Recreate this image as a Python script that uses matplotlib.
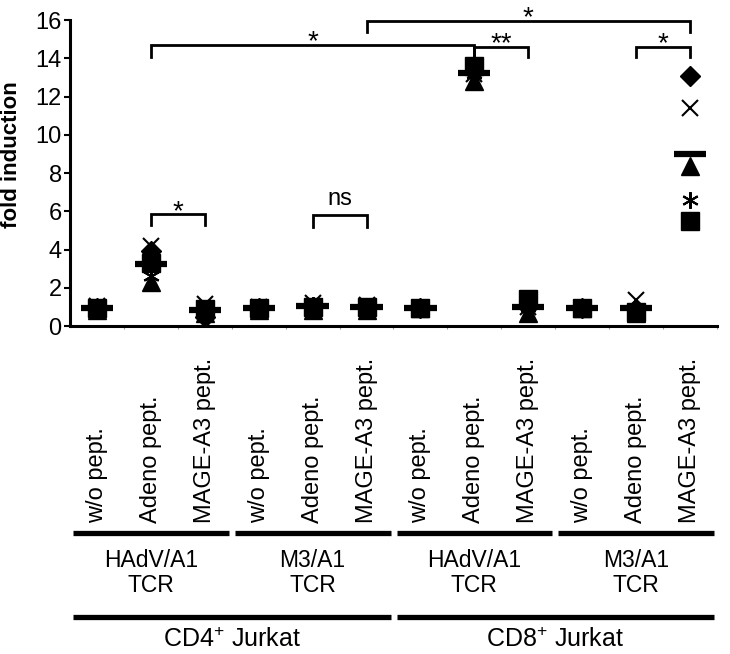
import numpy as np
import matplotlib
matplotlib.use("Agg")
import matplotlib.pyplot as plt
from matplotlib.transforms import blended_transform_factory

plt.rcParams['font.family'] = ['Liberation Sans', 'DejaVu Sans']
plt.rcParams['mathtext.fontset'] = 'custom'
plt.rcParams['mathtext.rm'] = 'Liberation Sans'

# conditions (12 columns): 2 cell lines x 2 TCRs x 3 peptides
peptides = ["w/o pept.", "Adeno pept.", "MAGE-A3 pept."]
tcrs = ["HAdV/A1\nTCR", "M3/A1\nTCR", "HAdV/A1\nTCR", "M3/A1\nTCR"]
cells = ["CD4$^{+}$ Jurkat", "CD8$^{+}$ Jurkat"]

# replicate values (fold induction), one list per marker
diamond = [0.95, 3.9, 0.45, 0.95, 1.0, 0.95, 0.95, 13.3, 1.0, 0.95, 0.9, 13.1]
square = [0.95, 3.3, 0.9, 0.95, 1.0, 1.0, 0.95, 13.6, 1.4, 0.95, 0.75, 5.5]
triangle = [0.85, 2.3, 0.7, 0.85, 0.85, 0.85, 0.95, 12.8, 0.7, 0.95, 0.7, 8.4]
cross = [1.05, 4.2, 1.15, 1.0, 1.2, 1.1, 0.95, 13.2, 1.0, 0.95, 1.35, 11.4]
star = [1.0, 2.6, 0.9, 1.0, 1.1, 1.05, 0.95, 13.2, 1.0, 0.95, 0.9, 6.6]

# significance brackets: (left col, right col, top, leg bottom, label)
brackets = [
    (1, 2, 5.85, 5.3, "*"),
    (4, 5, 5.8, 5.2, "ns"),
    (1, 7, 14.7, 14.1, "*"),
    (7, 8, 14.6, 14.1, "**"),
    (5, 11, 15.98, 15.4, "*"),
    (10, 11, 14.6, 14.1, "*"),
]

fig = plt.figure(figsize=(7.3, 6.54), dpi=100)
ax = fig.add_axes([0.096, 0.5015, 0.886, 0.4675])

xs = np.arange(12)
for vals, mk, ms, mew in [(square, 's', 12.5, 1), (triangle, '^', 13.5, 1),
                          (diamond, 'D', 10.5, 1), (cross, 'x', 12, 1.5),
                          (star, (6, 2, 0), 12, 1.5)]:
    ax.plot(xs, vals, linestyle='none', marker=mk, markersize=ms,
            color='black', markeredgewidth=mew, clip_on=False, zorder=3)

means = np.mean([diamond, square, triangle, cross, star], axis=0)
ax.hlines(means, xs - 0.3, xs + 0.3, colors='black', linewidth=4.5, zorder=4)

ax.set_xlim(-0.5, 11.5)
ax.set_ylim(0, 16)
ax.set_yticks(np.arange(0, 17, 2))
ax.tick_params(axis='y', labelsize=17, length=4, width=1.5, pad=2)
ax.set_xticks(np.arange(0.5, 11.6, 1))
ax.set_xticklabels([])
ax.tick_params(axis='x', length=2, width=0.8, color='#999999')
ax.spines['top'].set_visible(False)
ax.spines['right'].set_visible(False)
ax.spines['left'].set_linewidth(2.2)
ax.spines['bottom'].set_linewidth(2.2)
ax.set_ylabel("fold induction", fontsize=16, fontweight='bold')
ax.yaxis.set_label_coords(-0.074, 0.56)

for x0, x1, top, bot, lab in brackets:
    ax.plot([x0, x0, x1, x1], [bot, top, top, bot], color='black',
            linewidth=2, clip_on=False, solid_joinstyle='miter')
    if lab == "ns":
        ax.text((x0 + x1) / 2, top + 0.25, lab, ha='center', va='bottom',
                fontsize=17)
    else:
        ax.text((x0 + x1) / 2, top - 0.55, lab, ha='center', va='bottom',
                fontsize=20)

# category labels below the axis
tr = blended_transform_factory(ax.transData, fig.transFigure)
for i in range(12):
    ax.text(i, 0.2, peptides[i % 3], rotation=90, ha='center', va='bottom',
            fontsize=17, transform=tr)

for g in range(4):
    ax.plot([3 * g - 0.44, 3 * g + 2.45], [0.185, 0.185], color='black',
            linewidth=3.8, transform=tr, clip_on=False, solid_capstyle='butt')
    ax.text(3 * g + 1, 0.124, tcrs[g], ha='center', va='center',
            fontsize=16.5, linespacing=1.15, transform=tr)

for c in range(2):
    ax.plot([6 * c - 0.44, 6 * c + 5.45], [0.057, 0.057], color='black',
            linewidth=3.8, transform=tr, clip_on=False, solid_capstyle='butt')
    ax.text(6 * c + 2.5, 0.021, cells[c], ha='center', va='center',
            fontsize=18, transform=tr)

fig.savefig("out.png", dpi=100)
